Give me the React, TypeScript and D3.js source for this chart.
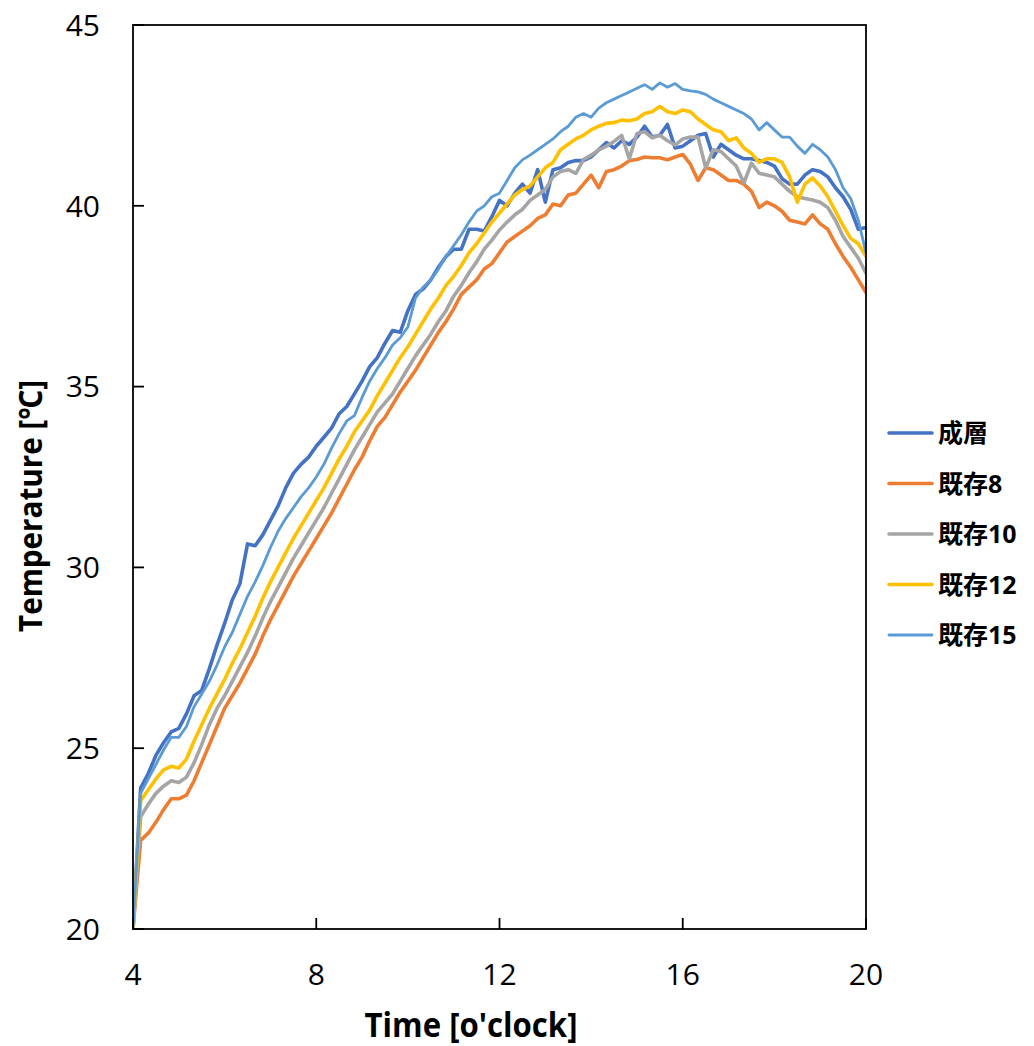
import React from "react";
import * as d3 from "d3";

// Time grid: 10-minute readings from 4:00 to 20:00 (hours)
const times: number[] = Array.from({ length: 97 }, (_, i) => 4 + i / 6);

const seriesNames = ["成層", "既存8", "既存10", "既存12", "既存15"];
const seriesColors = ["#4472C4", "#ED7D31", "#A5A5A5", "#FFC000", "#5B9BD5"];
const seriesWidths = [3.6, 3.6, 3.6, 3.6, 2.8];

const seisou: number[] = [
  20.0, 23.9, 24.3, 24.8, 25.15, 25.45, 25.55, 25.95, 26.45, 26.6,
  27.2, 27.85, 28.45, 29.1, 29.55, 30.65, 30.6, 30.9, 31.3, 31.7,
  32.2, 32.6, 32.85, 33.05, 33.35, 33.6, 33.85, 34.25, 34.45, 34.8,
  35.15, 35.55, 35.8, 36.2, 36.55, 36.5, 37.1, 37.55, 37.7, 37.95,
  38.3, 38.6, 38.8, 38.8, 39.35, 39.35, 39.3, 39.7, 40.15, 40.0,
  40.35, 40.6, 40.35, 41.0, 40.1, 41.0, 41.05, 41.2, 41.25, 41.25,
  41.35, 41.55, 41.75, 41.6, 41.8, 41.7, 41.9, 42.2, 41.9, 41.95,
  42.25, 41.6, 41.65, 41.8, 41.95, 42.0, 41.35, 41.7, 41.55, 41.4,
  41.3, 41.3, 41.25, 41.2, 41.1, 40.75, 40.6, 40.6, 40.85, 41.0,
  40.95, 40.8, 40.5, 40.25, 39.9, 39.35, 39.4,
];

const kizon8: number[] = [
  20.0, 22.45, 22.65, 22.95, 23.3, 23.6, 23.6, 23.7, 24.1, 24.6,
  25.1, 25.6, 26.1, 26.45, 26.8, 27.2, 27.6, 28.1, 28.55, 28.95,
  29.35, 29.75, 30.1, 30.45, 30.8, 31.15, 31.5, 31.9, 32.3, 32.7,
  33.05, 33.5, 33.9, 34.15, 34.5, 34.85, 35.15, 35.45, 35.8, 36.15,
  36.5, 36.8, 37.15, 37.55, 37.75, 37.95, 38.25, 38.4, 38.7, 39.0,
  39.15, 39.3, 39.45, 39.65, 39.75, 40.05, 40.0, 40.3, 40.35, 40.6,
  40.85, 40.5, 40.95, 41.0, 41.1, 41.25, 41.28, 41.35, 41.33, 41.33,
  41.27, 41.35, 41.42, 41.15, 40.7, 41.05, 41.0, 40.85, 40.7, 40.7,
  40.6, 40.4, 39.95, 40.1, 40.0, 39.85, 39.6, 39.55, 39.5, 39.75,
  39.5, 39.35, 38.95, 38.6, 38.3, 37.95, 37.6,
];

const kizon10: number[] = [
  20.0, 23.1, 23.45, 23.75, 23.95, 24.1, 24.05, 24.2, 24.6, 25.1,
  25.65, 26.1, 26.45, 26.85, 27.25, 27.65, 28.1, 28.6, 29.05, 29.45,
  29.85, 30.25, 30.6, 30.95, 31.3, 31.65, 32.05, 32.45, 32.85, 33.25,
  33.6, 33.95, 34.3, 34.55, 34.8, 35.15, 35.5, 35.85, 36.15, 36.45,
  36.8, 37.1, 37.5, 37.8, 38.15, 38.45, 38.8, 39.05, 39.33, 39.55,
  39.75, 39.9, 40.15, 40.3, 40.45, 40.8, 40.95, 41.0, 40.9, 41.28,
  41.4, 41.55, 41.65, 41.78, 41.95, 41.3, 42.0, 42.05, 41.88, 41.95,
  41.8, 41.68, 41.85, 41.9, 41.9, 41.05, 41.55, 41.5, 41.3, 41.1,
  40.63, 41.18, 40.9, 40.85, 40.8, 40.6, 40.4, 40.25, 40.2, 40.16,
  40.1, 39.95, 39.6, 39.15, 38.85, 38.55, 38.14,
];

const kizon12: number[] = [
  20.0, 23.55, 23.85, 24.15, 24.4, 24.5, 24.45, 24.7, 25.2, 25.65,
  26.1, 26.5, 26.9, 27.35, 27.75, 28.2, 28.65, 29.15, 29.6, 30.0,
  30.4, 30.8, 31.15, 31.5, 31.85, 32.2, 32.6, 33.0, 33.35, 33.75,
  34.05, 34.35, 34.75, 35.1, 35.45, 35.8, 36.1, 36.45, 36.8, 37.15,
  37.45, 37.8, 38.05, 38.35, 38.7, 38.95, 39.25, 39.55, 39.8, 40.05,
  40.3, 40.45, 40.55, 40.8, 41.05, 41.2, 41.55, 41.7, 41.85, 41.95,
  42.1, 42.2, 42.28, 42.3, 42.37, 42.35, 42.4, 42.55, 42.6, 42.75,
  42.6, 42.55, 42.65, 42.6, 42.4, 42.25, 42.1, 42.05, 41.8, 41.88,
  41.6, 41.45, 41.2, 41.3, 41.3, 41.2, 40.8, 40.1, 40.6, 40.77,
  40.55, 40.25, 39.85, 39.45, 39.1, 38.95, 38.6,
];

const kizon15: number[] = [
  20.0, 23.75, 24.15, 24.55, 24.95, 25.3, 25.3, 25.6, 26.15, 26.5,
  26.85, 27.3, 27.8, 28.2, 28.7, 29.2, 29.6, 30.05, 30.55, 31.0,
  31.35, 31.65, 31.95, 32.2, 32.5, 32.85, 33.3, 33.7, 34.05, 34.2,
  34.7, 35.15, 35.5, 35.8, 36.15, 36.35, 36.65, 37.45, 37.75, 37.95,
  38.25, 38.6, 38.9, 39.2, 39.55, 39.85, 40.0, 40.25, 40.35, 40.7,
  41.05, 41.27, 41.4, 41.55, 41.7, 41.85, 42.05, 42.2, 42.45, 42.55,
  42.45, 42.7, 42.85, 42.95, 43.05, 43.15, 43.25, 43.35, 43.22, 43.4,
  43.28, 43.38, 43.22, 43.18, 43.15, 43.08, 42.95, 42.85, 42.75, 42.65,
  42.55, 42.4, 42.1, 42.3, 42.1, 41.9, 41.9, 41.65, 41.45, 41.7,
  41.55, 41.35, 41.0, 40.5, 40.2, 39.6, 38.7,
];

const allSeries = [seisou, kizon8, kizon10, kizon12, kizon15];

const xTicks = [4, 8, 12, 16, 20];
const yTicks = [20, 25, 30, 35, 40, 45];

const NUM_FONT = "'Open Sans', 'Noto Sans', sans-serif";
const CJK_FONT = "'Open Sans', 'Noto Sans CJK JP', sans-serif";

export default function App() {
  const W = 1034;
  const H = 1046;
  const left = 133;
  const right = 866;
  const top = 25;
  const bottom = 929;

  const x = d3.scaleLinear().domain([4, 20]).range([left, right]);
  const y = d3.scaleLinear().domain([20, 45]).range([bottom, top]);

  const line = d3
    .line<number>()
    .x((_, i) => x(times[i]))
    .y((d) => y(d))
    .curve(d3.curveLinear);

  const legendY0 = 433;
  const legendStep = 50.5;

  return (
    <svg
      width={W}
      height={H}
      viewBox={`0 0 ${W} ${H}`}
      style={{ position: "absolute", left: 0, top: 0, background: "#fff" }}
    >
      <rect x={0} y={0} width={W} height={H} fill="#fff" />
      <defs>
        <clipPath id="plotclip">
          <rect x={left} y={top - 2} width={right - left} height={bottom - top + 2} />
        </clipPath>
      </defs>

      {/* series */}
      <g clipPath="url(#plotclip)">
        {allSeries.map((s, k) => (
          <path
            key={k}
            d={line(s) || ""}
            fill="none"
            stroke={seriesColors[k]}
            strokeWidth={seriesWidths[k]}
            strokeLinejoin="round"
            strokeLinecap="round"
          />
        ))}
      </g>

      {/* frame */}
      <rect
        x={left}
        y={top}
        width={right - left}
        height={bottom - top}
        fill="none"
        stroke="#000"
        strokeWidth={1.8}
      />

      {/* y ticks */}
      {yTicks.map((t) => (
        <g key={"y" + t}>
          <line x1={left} x2={left + 11} y1={y(t)} y2={y(t)} stroke="#000" strokeWidth={1.8} />
          <text
            x={100}
            y={y(t)}
            dy="0.36em"
            textAnchor="end"
            fontFamily={NUM_FONT}
            fontSize={30}
            fill="#000"
          >
            {t}
          </text>
        </g>
      ))}

      {/* x ticks */}
      {xTicks.map((t) => (
        <g key={"x" + t}>
          <line x1={x(t)} x2={x(t)} y1={bottom} y2={bottom - 11} stroke="#000" strokeWidth={1.8} />
          <text
            x={x(t)}
            y={985}
            textAnchor="middle"
            fontFamily={NUM_FONT}
            fontSize={30}
            fill="#000"
          >
            {t}
          </text>
        </g>
      ))}

      {/* axis titles */}
      <text
        x={471}
        y={1037}
        textAnchor="middle"
        fontFamily={NUM_FONT}
        fontWeight="bold"
        fontSize={34}
        textLength={213}
        lengthAdjust="spacingAndGlyphs"
        fill="#000"
      >
        Time [o'clock]
      </text>
      <text
        transform={`translate(42,506) rotate(-90)`}
        textAnchor="middle"
        fontFamily={NUM_FONT}
        fontWeight="bold"
        fontSize={32}
        textLength={252}
        lengthAdjust="spacingAndGlyphs"
        fill="#000"
      >
        Temperature [℃]
      </text>

      {/* legend */}
      {seriesNames.map((n, k) => (
        <g key={"lg" + k}>
          <line
            x1={889}
            x2={932}
            y1={legendY0 + k * legendStep}
            y2={legendY0 + k * legendStep}
            stroke={seriesColors[k]}
            strokeWidth={seriesWidths[k]}
            strokeLinecap="round"
          />
          <text
            x={938}
            y={legendY0 + k * legendStep}
            dy="0.36em"
            fontFamily={CJK_FONT}
            fontWeight="bold"
            fontSize={25}
            fill="#000"
          >
            {n}
          </text>
        </g>
      ))}
    </svg>
  );
}
